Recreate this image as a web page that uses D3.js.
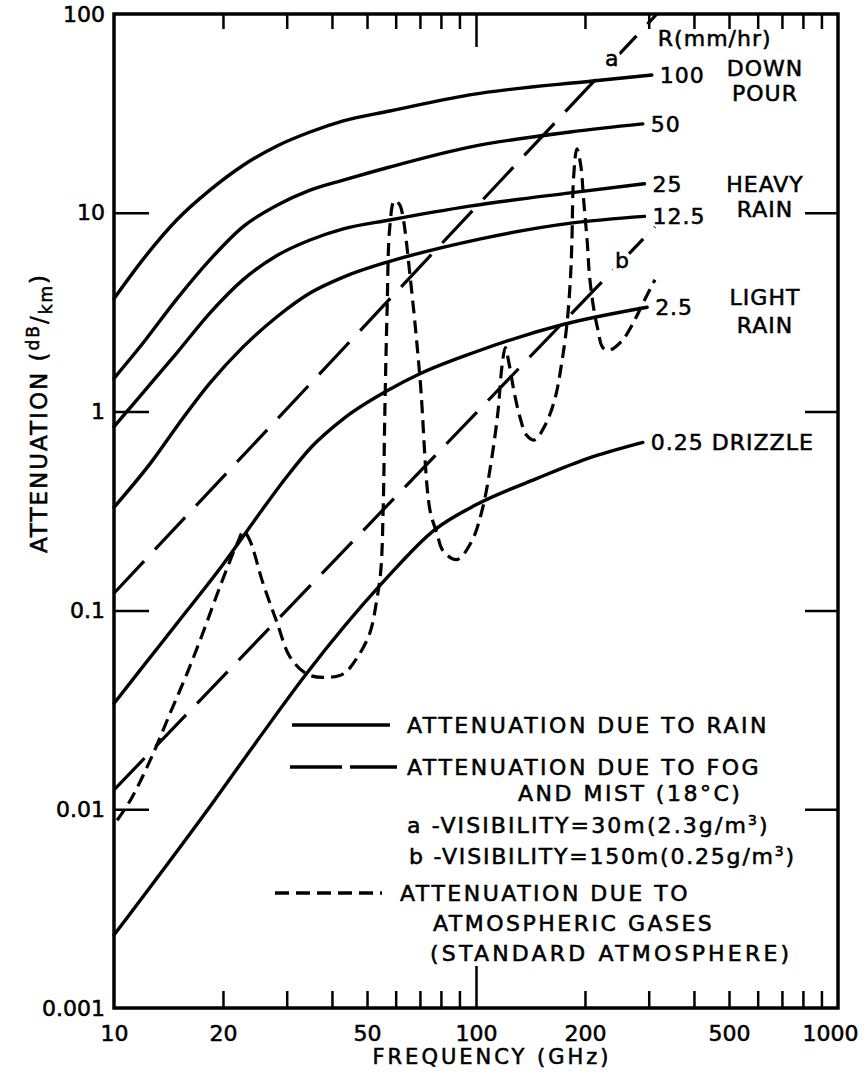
<!DOCTYPE html>
<meta charset="utf-8">
<html>
<head>
<style>
  body { margin: 0; background: #fff; }
  svg text { font-family: "DejaVu Sans", sans-serif; fill: #000; stroke: #000; stroke-width: 0.55; }
  svg text.halo { fill: #fff; stroke: #fff; stroke-width: 9; }
  .domain { display: none; }
  .tick line { stroke: #000; stroke-width: 2.5; }
</style>
<script src="https://d3js.org/d3.v7.min.js"></script>
</head>
<body>
<svg width="866" height="1081"></svg>
<script>

// ---- values ----
var freqMinor  = [20, 30, 40, 50, 60, 70, 80, 90, 200, 300, 400, 500, 600, 700, 800, 900];
var freqLabels = [10, 20, 50, 100, 200, 500, 1000];
var attTicks   = [0.01, 0.1, 1, 10];
var attLabels  = [0.001, 0.01, 0.1, 1, 10, 100];

// rain attenuation, [GHz, dB/km]
var rain100 = [[10,3.7],[12,5.8],[14.9,9.2],[18.4,13],[22.7,17.3],[28.2,21.7],[34.8,25.5],[43,29],[57.8,32.5],[96,39.2],[210,46],[306,49.3]];
var rain50  = [[10,1.47],[12,2.2],[14.9,3.68],[18.4,5.8],[22.7,8.5],[28.2,10.9],[34.8,13],[43,14.6],[57.8,17],[96,21.4],[182,25.5],[289,28]];
var rain25  = [[10,0.84],[12,1.24],[14.9,1.97],[18.4,3.13],[22.7,4.6],[28.2,6.1],[34.8,7.3],[43,8.3],[57.8,9.2],[96,10.8],[182,12.6],[292,14]];
var rain12  = [[10,0.33],[12.8,0.57],[14.9,0.84],[18.4,1.39],[22.7,2.11],[28.2,3.0],[34.8,3.95],[43,4.75],[57.8,5.7],[81,6.7],[103,7.4],[185,8.9],[292,9.6]];
var rain2   = [[10,0.034],[12,0.052],[15,0.087],[20,0.17],[25,0.3],[30,0.47],[35,0.66],[43,0.92],[58,1.3],[70,1.55],[100,2.0],[175,2.75],[297,3.35]];
var rain025 = [[10,0.00233],[18.4,0.0103],[25,0.0224],[34,0.048],[55.4,0.139],[77,0.255],[100,0.34],[147,0.46],[203,0.58],[289,0.7]];
var rainNames = ["100", "50", "25", "12.5", "2.5", "0.25 DRIZZLE"];

// fog and mist
var fogA = [[10,0.122],[316,100]];
var fogB = [[10,0.0125],[312,8.5]];

// atmospheric gases
var gas = [[10.2,0.0088],[11.1,0.0111],[12.6,0.0177],[14.3,0.0305],[15.9,0.048],[17.6,0.077],[19.6,0.131],
           [21.9,0.217],[22.8,0.25],[23.7,0.226],[25.8,0.137],[28.2,0.087],[30.6,0.0585],[34,0.048],[37.8,0.046],
           [43,0.048],[47,0.058],[50.9,0.077],[53.2,0.113],[54.6,0.16],[55.4,0.32],[56,1.0],[56.8,3.2],[57.8,8.5],
           [59.5,11.5],[61.5,11],[62.8,9.6],[65.8,4.75],[70,1.49],[74.6,0.32],[78,0.245],[81,0.2],[88.5,0.18],
           [97,0.22],[104,0.32],[110,0.55],[115,1.0],[118,1.7],[120.5,2.1],[123,1.8],[127,1.3],[132,0.95],
           [138,0.76],[145,0.72],[155,0.85],[165,1.15],[172,1.7],[178,2.67],[182,4.4],[184,7.05],[186,15],
           [190,21],[195,17],[198,12],[203,7.05],[206,4.75],[212,3.2],[217,2.6],[224,2.1],[234,2.04],[254,2.29],
           [272,2.8],[289,3.5],[312,4.6]];

var legendText = [
  ["ATTENUATION DUE TO RAIN"],
  ["ATTENUATION DUE TO FOG", "AND MIST (18°C)"],
  ["ATTENUATION DUE TO", "ATMOSPHERIC GASES", "(STANDARD ATMOSPHERE)"]
];

var svg = d3.select("svg");

var x = d3.scaleLog().domain([10, 1000]).range([114, 838]);
var y = d3.scaleLog().domain([0.001, 100]).range([1008, 14]);

// frame
svg.append("rect")
    .attr("x", x(10)).attr("y", y(100))
    .attr("width", x(1000) - x(10)).attr("height", y(0.001) - y(100))
    .attr("fill", "none").attr("stroke", "#000").attr("stroke-width", 3.5);

// ticks, all pointing inward
svg.append("g").attr("transform", "translate(0," + y(0.001) + ")")
    .call(d3.axisBottom(x).tickValues(freqMinor).tickSize(-17).tickFormat(""));
svg.append("g").attr("transform", "translate(0," + y(0.001) + ")")
    .call(d3.axisBottom(x).tickValues([100]).tickSize(-42).tickFormat(""));
svg.append("g").attr("transform", "translate(0," + y(100) + ")")
    .call(d3.axisTop(x).tickValues(freqMinor).tickSize(-15).tickFormat(""));
svg.append("g").attr("transform", "translate(0," + y(100) + ")")
    .call(d3.axisTop(x).tickValues([100]).tickSize(-33).tickFormat(""));
svg.append("g").attr("transform", "translate(" + x(10) + ",0)")
    .call(d3.axisLeft(y).tickValues(attTicks).tickSize(-35).tickFormat(""));
svg.append("g").attr("transform", "translate(" + x(1000) + ",0)")
    .call(d3.axisRight(y).tickValues(attTicks).tickSize(-33).tickFormat(""));

// tick labels
var xl = svg.append("g").attr("transform", "translate(0," + y(0.001) + ")")
    .call(d3.axisBottom(x).tickValues(freqLabels).tickSize(0).tickPadding(17).tickFormat(d3.format("d")));
xl.selectAll("text").attr("font-size", 22).attr("font-family", null).attr("fill", null);
xl.selectAll(".tick:last-of-type text").attr("dx", -8);

var yl = svg.append("g").attr("transform", "translate(" + x(10) + ",0)")
    .call(d3.axisLeft(y).tickValues(attLabels).tickSize(0).tickPadding(9).tickFormat(function(d) { return String(d); }));
yl.selectAll("text").attr("font-size", 22).attr("font-family", null).attr("fill", null);

// axis titles
svg.append("text")
    .attr("x", 492).attr("y", 1064)
    .attr("text-anchor", "middle")
    .attr("font-size", 21).attr("letter-spacing", 3)
    .text("FREQUENCY (GHz)");

var yt = svg.append("text")
    .attr("transform", "translate(47,413) rotate(-90)")
    .attr("text-anchor", "middle")
    .attr("font-size", 23).attr("letter-spacing", 2);
yt.append("tspan").text("ATTENUATION (");
yt.append("tspan").attr("font-size", 17).attr("dy", -8).text("dB");
yt.append("tspan").attr("dy", 8).text("/");
yt.append("tspan").attr("font-size", 17).attr("dy", 5).text("km");
yt.append("tspan").attr("dy", -5).text(")");

// curves
var line = d3.line()
    .x(function(d) { return x(d[0]); })
    .y(function(d) { return y(d[1]); })
    .curve(d3.curveMonotoneX);

var rainSeries = [rain100, rain50, rain25, rain12, rain2, rain025];

svg.append("g")
    .attr("fill", "none").attr("stroke", "#000").attr("stroke-width", 3.4)
    .attr("stroke-linecap", "round")
  .selectAll("path")
  .data(rainSeries)
  .enter().append("path")
    .attr("d", line);

svg.append("g")
    .attr("fill", "none").attr("stroke", "#000").attr("stroke-width", 3.2)
    .attr("stroke-dasharray", "44,16")
  .selectAll("path")
  .data([fogA, fogB])
  .enter().append("path")
    .attr("d", d3.line().x(function(d) { return x(d[0]); }).y(function(d) { return y(d[1]); }));

svg.append("path")
    .datum(gas)
    .attr("fill", "none").attr("stroke", "#000").attr("stroke-width", 3.2)
    .attr("stroke-dasharray", "13,7")
    .attr("d", d3.line()
        .x(function(d) { return x(d[0]); })
        .y(function(d) { return y(d[1]); })
        .curve(d3.curveCatmullRom.alpha(0.5)));

// rain labels at curve ends
var labels = svg.append("g").attr("font-size", 22).attr("letter-spacing", 1);
labels.selectAll("text.rate")
  .data(rainSeries)
  .enter().append("text")
    .attr("class", "rate")
    .attr("x", function(d) { return x(d[d.length - 1][0]) + 8; })
    .attr("y", function(d) { return y(d[d.length - 1][1]); })
    .attr("dy", "0.36em")
    .text(function(d, i) { return rainNames[i]; });

labels.append("text")
    .attr("x", x(rain100[rain100.length - 1][0]) + 6)
    .attr("y", y(rain100[rain100.length - 1][1]) - 37)
    .attr("dy", "0.36em")
    .text("R(mm/hr)");

var classes = [
  {series: rain100, words: ["DOWN", "POUR"], dy: [-7, 18]},
  {series: rain25,  words: ["HEAVY", "RAIN"], dy: [0, 25]},
  {series: rain2,   words: ["LIGHT", "RAIN"], dy: [-10, 18]}
];
classes.forEach(function(c) {
  var end = c.series[c.series.length - 1];
  labels.append("text")
      .attr("x", 765).attr("text-anchor", "middle")
      .attr("y", y(end[1]) + c.dy[0]).attr("dy", "0.36em")
      .text(c.words[0]);
  labels.append("text")
      .attr("x", 765).attr("text-anchor", "middle")
      .attr("y", y(end[1]) + c.dy[1]).attr("dy", "0.36em")
      .text(c.words[1]);
});

// fog curve letters sit in a gap of their line
[["a", 60, 20], ["b", 5.8, 30]].forEach(function(l) {
  ["halo", "mark"].forEach(function(cls) {
    labels.append("text").attr("class", cls)
        .attr("x", x(200)).attr("y", y(l[1]))
        .attr("dx", l[2]).attr("dy", "0.36em")
        .text(l[0]);
  });
});

// legend
var lg = svg.append("g").attr("font-size", 22).attr("letter-spacing", 2.5);
lg.append("line").attr("x1", 292).attr("x2", 390).attr("y1", 725).attr("y2", 725)
    .attr("stroke", "#000").attr("stroke-width", 3.4);
lg.append("text").attr("x", 407).attr("y", 725).attr("dy", "0.36em").text(legendText[0][0]);

lg.append("line").attr("x1", 290).attr("x2", 397).attr("y1", 767).attr("y2", 767)
    .attr("stroke", "#000").attr("stroke-width", 3.4).attr("stroke-dasharray", "52,8");
lg.append("text").attr("x", 407).attr("y", 767).attr("dy", "0.36em").text(legendText[1][0]);
lg.append("text").attr("x", 518).attr("y", 793).attr("dy", "0.36em").text(legendText[1][1]);

var vis = lg.append("text").attr("x", 407).attr("y", 825).attr("dy", "0.36em").attr("letter-spacing", 2.1);
vis.append("tspan").text("a -VISIBILITY=30m(2.3g/m");
vis.append("tspan").attr("font-size", 14).attr("dy", -8).text("3");
vis.append("tspan").attr("dy", 8).text(")");
var vis2 = lg.append("text").attr("x", 409).attr("y", 856).attr("dy", "0.36em").attr("letter-spacing", 1.8);
vis2.append("tspan").text("b -VISIBILITY=150m(0.25g/m");
vis2.append("tspan").attr("font-size", 14).attr("dy", -8).text("3");
vis2.append("tspan").attr("dy", 8).text(")");

lg.append("line").attr("x1", 275).attr("x2", 382).attr("y1", 893).attr("y2", 893)
    .attr("stroke", "#000").attr("stroke-width", 3.6).attr("stroke-dasharray", "14,7");
lg.append("text").attr("x", 400).attr("y", 893).attr("dy", "0.36em").text(legendText[2][0]);
lg.append("text").attr("x", 433).attr("y", 923).attr("dy", "0.36em").text(legendText[2][1]);
lg.append("text").attr("x", 430).attr("y", 953).attr("dy", "0.36em").attr("letter-spacing", 3.2).text(legendText[2][2]);

</script>
</body>
</html>
